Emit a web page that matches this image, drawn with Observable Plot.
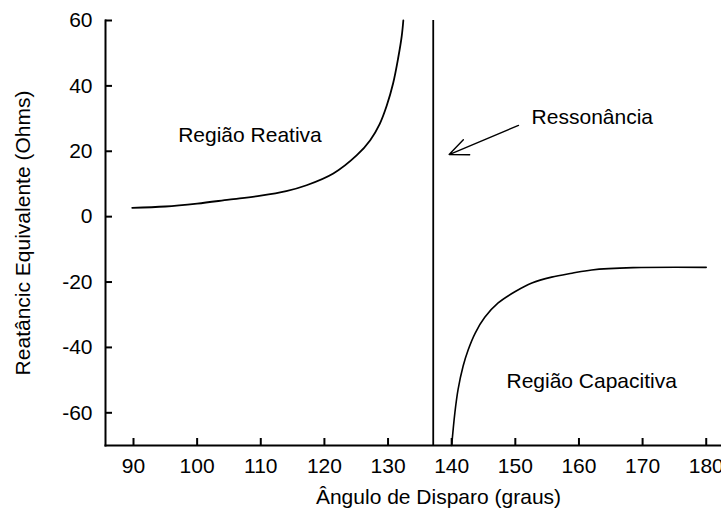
<!DOCTYPE html>
<html>
<head>
<meta charset="utf-8">
<script src="https://cdn.jsdelivr.net/npm/d3@7"></script>
<script src="https://cdn.jsdelivr.net/npm/@observablehq/plot@0.6"></script>
<style>
  body { margin: 0; background: #fff; }
  #chart svg { overflow: visible; }
</style>
</head>
<body>
<div id="chart"></div>
<script>
// Reactance of the equivalent circuit versus firing angle
const xDomain = [85.6, 182.4];
const yDomain = [-70, 60];
const xTicks = [90, 100, 110, 120, 130, 140, 150, 160, 170, 180];
const yTicks = [-60, -40, -20, 0, 20, 40, 60];

// Inductive branch (below resonance)
const reactiveAngle = [89.8, 95, 100, 105, 110, 114, 117.2, 121.4, 125.1, 127.2, 128.7, 129.8, 130.8, 131.6, 132.15, 132.4];
const reactiveOhms  = [2.7, 3.1, 4.0, 5.2, 6.4, 7.8, 9.6, 13.2, 18.8, 23.4, 28.4, 34.0, 40.8, 48.6, 55.2, 60];

// Capacitive branch (above resonance)
const capacitiveAngle = [140.0, 140.5, 141.0, 141.8, 142.6, 143.7, 145.2, 147.3, 150.0, 152.6, 155.7, 158.9, 162.0, 168.5, 180];
const capacitiveOhms  = [-70, -60.0, -52.9, -45.7, -40.7, -35.6, -30.8, -26.4, -22.9, -20.3, -18.5, -17.3, -16.3, -15.6, -15.5];

const resonanceAngle = 137.1;

// Region annotations
const noteText  = ["Região Reativa", "Ressonância", "Região Capacitiva"];
const noteAngle = [108.3, 162.1, 162.0];
const noteOhms  = [24.9, 30.5, -50.3];

// Arrow pointing at the resonance line
const arrowFrom = {angle: 150.5, ohms: 27.9};
const arrowTo   = {angle: 139.6, ohms: 19.0};

const xLabel = "Ângulo de Disparo (graus)";
const yLabel = "Reatâncic Equivalente (Ohms)";

const reactive = reactiveAngle.map((a, i) => ({angle: a, ohms: reactiveOhms[i]}));
const capacitive = capacitiveAngle.map((a, i) => ({angle: a, ohms: capacitiveOhms[i]}));
const notes = noteText.map((t, i) => ({text: t, angle: noteAngle[i], ohms: noteOhms[i]}));

const chart = Plot.plot({
  width: 721,
  height: 516,
  marginLeft: 105,
  marginRight: 0,
  marginTop: 20,
  marginBottom: 71,
  style: {
    fontFamily: "'Liberation Sans', Arial, sans-serif",
    fontSize: "21px",
    color: "#000",
    background: "#fff"
  },
  x: {domain: xDomain},
  y: {domain: yDomain},
  marks: [
    Plot.axisX(xTicks, {tickSize: 0, tickPadding: 13, label: null}),
    Plot.axisY(yTicks, {tickSize: 0, tickPadding: 13, label: null, tickFormat: d => String(d)}),
    Plot.tickX(xTicks, {x: d => d, insetTop: 418, strokeWidth: 2}),
    Plot.tickY(yTicks, {y: d => d, insetRight: 609, strokeWidth: 2}),
    Plot.frame({anchor: "left", strokeWidth: 2}),
    Plot.frame({anchor: "bottom", strokeWidth: 2}),
    Plot.ruleX([resonanceAngle], {strokeWidth: 1.8}),
    Plot.line(reactive, {x: "angle", y: "ohms", curve: "catmull-rom", strokeWidth: 1.8}),
    Plot.line(capacitive, {x: "angle", y: "ohms", curve: "catmull-rom", strokeWidth: 1.6}),
    Plot.arrow([{}], {
      x1: () => arrowFrom.angle, y1: () => arrowFrom.ohms,
      x2: () => arrowTo.angle, y2: () => arrowTo.ohms,
      strokeWidth: 1.4, headLength: 22, headAngle: 47
    }),
    Plot.text(notes, {x: "angle", y: "ohms", text: "text", fontSize: 21}),
    Plot.text([xLabel], {frameAnchor: "bottom", textAnchor: "middle", lineAnchor: "middle", dy: 52, dx: 25, fontSize: 21}),
    Plot.text([yLabel], {frameAnchor: "left", textAnchor: "middle", lineAnchor: "middle", rotate: -90, dx: -82, fontSize: 21})
  ]
});

document.getElementById("chart").appendChild(chart);
</script>
</body>
</html>
